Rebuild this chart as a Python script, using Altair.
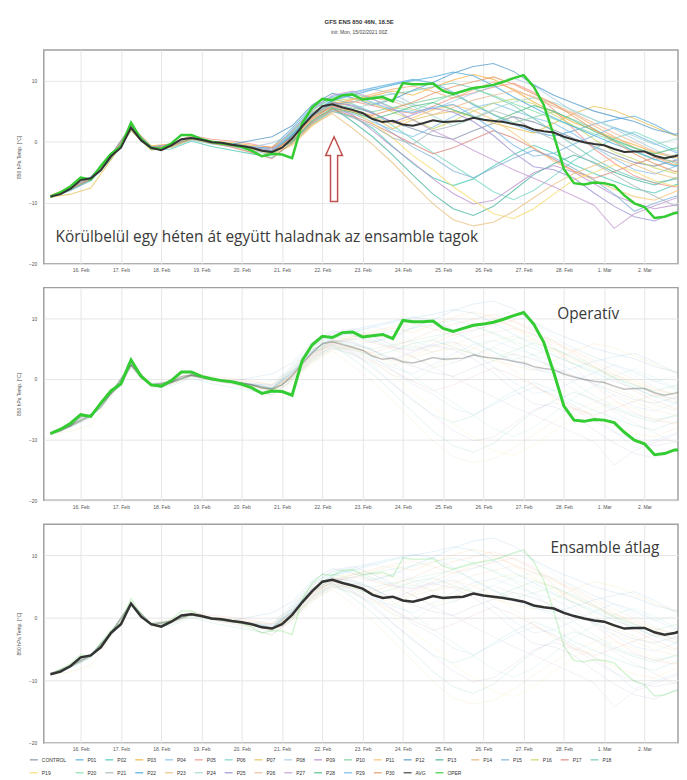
import altair as alt
import pandas as pd

# ---------------- data ----------------
SERIES_NAMES = ["CONTROL"] + [f"P{i:02d}" for i in range(1, 31)] + ["AVG", "OPER"]
SERIES_COLORS = ["#7f8fa6", "#5dade2", "#48c9b0", "#f5b041", "#85c1e9", "#f1948a",
                 "#76d7c4", "#e6c25a", "#a9cce3", "#bb8fce", "#7dcea0", "#f8c471",
                 "#5499c7", "#45b39d", "#f0b27a", "#7fb3d5", "#c9d86b", "#d98880",
                 "#73c6b6", "#f7dc6f", "#82e0aa", "#aab7b8", "#48a9d9", "#e8c07d",
                 "#a2d9ce", "#9b8fd0", "#edbb99", "#c39bd3", "#52be80", "#76b7e8",
                 "#e59866", "#333333", "#33cc33"]

# 12-hourly members from 15 Feb 06 UTC
CONTROL = [-9.1,-7.8,-6.2,-2.6,2.1,-1.1,-0.5,0.7,0.0,-0.4,-0.8,-1.2,1.0,4.8,6.5,5.8,4.6,3.2,2.1,1.0,0.4,1.8,3.0,4.1,3.2,1.9,0.5,-0.8,-2.1,-3.4,-4.0,-3.1,-2.5]
P01 = [-8.9,-7.6,-5.8,-2.2,2.5,-0.9,-0.7,0.5,-0.2,-0.6,-0.9,-1.0,2.2,5.6,7.4,8.1,8.8,9.5,10.2,9.6,8.1,6.0,4.4,2.8,1.6,0.9,1.8,2.9,3.6,4.2,2.8,1.1,0.2]
P02 = [-9.0,-7.9,-6.4,-2.9,1.8,-1.3,-1.2,0.1,-0.8,-1.4,-2.0,-2.6,-0.3,2.9,5.0,4.1,2.2,-0.8,-3.6,-5.9,-7.2,-6.1,-4.0,-2.1,-0.6,-1.9,-3.8,-5.2,-6.5,-7.7,-8.4,-7.1,-6.2]
P03 = [-8.8,-7.5,-5.9,-2.3,2.6,-0.7,-0.4,0.8,0.1,-0.2,-0.6,-0.9,1.5,4.9,6.2,6.9,7.5,8.3,7.6,8.9,10.1,11.0,10.2,8.4,6.5,4.8,3.1,1.9,0.6,-0.5,-1.8,-2.6,-2.0]
P04 = [-9.2,-8.0,-6.3,-2.7,2.0,-1.2,-0.9,0.3,-0.4,-0.8,-1.4,-2.2,0.3,3.6,5.2,4.6,3.2,1.9,0.8,2.4,4.1,5.6,6.3,5.1,3.9,3.0,1.2,-0.9,-2.8,-4.6,-5.3,-4.1,-3.0]
P05 = [-9.0,-7.7,-6.1,-2.5,2.2,-1.0,-0.3,1.0,0.4,0.1,-0.4,-1.0,0.8,4.0,6.0,6.6,5.9,5.1,4.6,5.8,7.2,8.0,8.9,9.6,8.1,5.2,2.0,-1.2,-3.5,-5.6,-6.8,-7.4,-6.1]
P06 = [-8.9,-7.6,-6.0,-2.4,2.4,-0.9,-0.5,0.7,0.0,-0.3,-0.9,-1.5,1.9,5.3,7.0,6.2,4.8,2.6,0.4,-1.8,-3.9,-6.0,-8.2,-9.5,-8.0,-5.6,-3.1,-1.2,0.5,1.6,0.2,-1.4,-2.3]
P07 = [-9.1,-8.6,-7.6,-3.0,1.8,-1.4,-0.9,0.4,-0.3,-0.7,-1.2,-1.9,0.1,3.2,5.4,4.8,4.0,2.1,3.6,4.4,5.0,4.1,3.0,2.2,1.4,3.0,4.6,5.8,5.1,3.8,2.4,1.0,0.5]
P08 = [-9.0,-7.6,-5.9,-2.3,2.4,-0.9,-0.6,0.6,-0.1,-0.4,-0.9,-0.2,1.2,4.6,6.8,7.9,8.6,7.9,6.1,5.3,6.6,7.9,9.1,10.4,9.2,7.0,4.9,3.6,2.1,0.4,-1.3,-2.9,-3.6]
P09 = [-8.9,-7.7,-6.0,-2.4,2.3,-1.1,-0.6,0.6,-0.1,-0.5,-1.0,-1.6,0.6,3.8,5.8,4.4,1.8,-0.9,-3.4,-6.1,-8.5,-10.2,-9.6,-7.4,-5.1,-3.9,-5.0,-6.9,-8.8,-10.1,-11.0,-10.4,-9.2]
P10 = [-9.1,-7.8,-6.1,-2.5,2.2,-1.0,-0.5,0.7,0.0,-0.5,-1.0,-1.7,0.4,4.1,6.2,5.5,4.9,5.6,6.3,7.0,7.6,6.2,4.5,3.1,4.0,4.9,3.6,2.1,0.2,-1.6,-3.0,-2.2,-1.5]
P11 = [-9.0,-7.7,-6.0,-2.4,2.3,-1.0,-0.6,0.5,-0.2,-0.6,-1.2,-2.1,-0.6,2.6,4.8,5.3,4.1,2.9,3.9,5.2,6.0,5.1,3.6,1.4,-1.0,-3.2,-4.9,-6.3,-7.8,-9.0,-9.6,-8.2,-7.0]
P12 = [-8.9,-7.6,-5.9,-2.3,2.4,-0.9,-0.5,0.7,0.0,-0.4,0.2,0.8,2.6,6.0,7.9,7.2,6.0,6.9,8.4,9.7,11.2,12.3,12.8,11.5,9.3,7.6,6.3,5.0,4.1,3.3,2.0,1.2,1.9]
P13 = [-9.0,-7.8,-6.1,-2.5,2.2,-1.1,-0.6,0.6,-0.1,-0.5,-1.0,-1.6,0.9,4.3,5.6,3.3,0.8,-2.2,-5.5,-8.6,-11.0,-12.1,-10.6,-8.0,-5.4,-3.6,-2.2,-3.4,-5.0,-6.2,-7.1,-6.0,-5.1]
P14 = [-9.1,-7.7,-6.0,-2.4,2.3,-1.0,-0.7,0.6,-0.1,-0.6,-1.1,-1.8,0.2,3.5,5.9,6.9,7.8,8.6,9.1,8.2,7.1,8.5,9.8,8.6,7.2,5.8,4.5,2.6,0.8,-0.9,-2.5,-3.8,-3.1]
P15 = [-9.0,-7.6,-6.0,-2.4,2.4,-0.9,-0.6,0.6,-0.1,-0.5,-1.0,-1.6,1.4,4.7,6.4,5.2,3.6,1.4,-0.9,-2.6,-4.8,-5.9,-4.3,-2.7,-1.4,-2.6,-4.4,-6.3,-8.6,-11.4,-10.1,-9.0,-8.3]
P16 = [-8.9,-7.7,-6.0,-2.4,2.3,-1.0,-0.6,0.6,-0.1,-0.5,-1.0,-1.7,0.7,4.2,6.6,7.1,6.3,4.8,3.6,2.1,3.4,5.0,6.3,7.0,6.2,4.4,2.6,0.4,-1.7,-2.9,-4.3,-5.2,-4.6]
P17 = [-9.0,-7.8,-6.2,-2.6,2.1,-1.2,-0.7,0.5,-0.2,-0.9,-1.8,-2.8,-0.1,3.1,5.3,4.2,2.9,1.3,-0.4,-2.0,-1.0,0.4,1.8,0.6,-1.1,-2.9,-4.8,-6.0,-4.9,-3.7,-2.6,-3.3,-4.0]
P18 = [-9.1,-7.7,-6.0,-2.4,2.3,-1.0,-0.6,0.6,-0.1,-0.5,-1.0,-1.6,1.0,4.4,6.0,6.5,7.3,7.8,8.3,9.0,9.6,8.8,7.4,5.9,3.8,1.6,-0.6,-2.8,-4.6,-5.9,-6.7,-6.2,-5.5]
P19 = [-9.0,-7.7,-6.0,-2.4,2.3,-1.0,-0.6,0.6,-0.1,-0.5,-1.0,-1.7,0.5,3.9,6.3,5.0,3.0,0.6,-2.3,-4.6,-7.4,-9.6,-11.8,-12.6,-11.0,-8.6,-6.2,-5.0,-3.8,-4.9,-6.4,-7.3,-6.5]
P20 = [-8.9,-7.6,-5.9,-2.3,2.4,-0.9,-0.6,0.6,-0.1,-0.5,-0.9,-1.5,1.6,5.1,7.2,7.9,7.0,5.6,5.1,6.4,7.8,8.6,7.6,6.2,5.0,3.7,2.5,1.3,0.1,-1.1,-2.2,-3.5,-4.2]
P21 = [-9.0,-7.8,-6.1,-2.5,2.2,-1.0,-0.6,0.6,-0.1,-0.6,-1.1,-1.8,0.0,3.3,5.0,3.9,2.6,0.6,-0.4,1.8,2.6,3.8,5.1,4.0,1.9,0.3,-1.8,-3.6,-5.4,-7.3,-8.9,-10.5,-9.8]
P22 = [-9.0,-7.7,-6.0,-2.4,2.3,-1.0,-0.5,0.6,-0.1,-0.5,-1.0,-1.6,1.1,4.5,6.7,7.6,8.5,9.3,10.0,10.6,11.4,10.8,9.2,7.3,5.6,3.9,2.4,1.0,-0.4,-1.5,-2.9,-4.0,-3.3]
P23 = [-9.1,-7.8,-6.1,-2.5,2.2,-1.1,-0.7,0.5,-0.2,-0.6,-1.2,-1.9,-0.4,2.8,4.6,2.2,-0.5,-3.5,-6.9,-10.2,-12.8,-13.8,-13.2,-11.4,-9.2,-7.0,-5.2,-3.9,-2.6,-3.8,-5.1,-6.0,-5.3]
P24 = [-8.9,-7.6,-6.0,-2.4,2.4,-0.9,-0.6,0.6,-0.1,-0.5,-1.0,-1.6,1.3,4.8,6.1,5.4,6.2,7.0,5.8,4.2,2.6,3.9,5.3,6.5,7.2,6.4,5.1,3.6,2.3,0.9,-0.5,0.4,1.2]
P25 = [-9.0,-7.7,-6.0,-2.4,2.3,-1.0,-0.6,0.6,-0.1,-0.5,-1.0,-1.7,0.8,4.2,6.3,6.0,4.7,3.2,4.4,5.5,4.8,3.3,1.0,-1.8,-4.1,-4.6,-6.0,-8.4,-10.6,-12.3,-13.0,-11.6,-10.3]
P26 = [-9.0,-7.7,-6.1,-2.5,2.2,-1.0,-0.6,0.6,-0.1,-0.5,-1.1,-1.7,0.3,3.7,5.7,6.4,7.2,6.6,5.3,4.4,5.6,6.8,7.6,8.3,7.4,6.1,4.7,3.0,1.4,-0.1,-1.6,-2.4,-1.7]
P27 = [-8.9,-7.6,-5.9,-2.3,2.4,-0.9,-0.5,0.7,0.0,-0.4,-0.9,-1.4,1.8,5.2,7.6,8.3,7.0,5.4,3.6,1.8,0.3,-1.4,-3.0,-4.6,-6.0,-7.4,-8.9,-10.4,-14.2,-11.8,-10.5,-9.3,-8.6]
P28 = [-9.1,-7.8,-6.1,-2.5,2.2,-1.1,-0.6,0.5,-0.2,-0.6,-1.1,-1.9,0.0,3.4,5.5,4.8,3.7,4.6,5.8,6.4,5.2,4.1,3.3,4.6,5.9,5.0,3.4,1.7,0.3,-1.0,-2.0,-1.1,-0.4]
P29 = [-9.0,-7.7,-6.0,-2.4,2.3,-1.0,-0.6,0.6,-0.1,-0.5,-1.0,-1.6,1.2,4.5,6.9,7.7,6.4,5.2,4.8,5.6,6.1,4.2,2.0,-0.6,-2.4,-1.9,-0.4,1.0,2.3,1.2,-0.3,-1.7,-2.4]
P30 = [-9.0,-7.7,-6.0,-2.4,2.3,-1.0,-0.6,0.6,-0.1,-0.5,-1.0,-1.7,0.6,3.9,5.8,5.0,4.3,5.3,6.5,7.9,9.0,9.8,10.6,9.4,7.8,6.2,4.1,2.0,0.0,-2.0,-3.6,-4.9,-4.4]

MEMBERS = [CONTROL, P01, P02, P03, P04, P05, P06, P07, P08, P09, P10, P11, P12, P13, P14, P15,
           P16, P17, P18, P19, P20, P21, P22, P23, P24, P25, P26, P27, P28, P29, P30]

# 6-hourly ensemble mean and operational run from 15 Feb 06 UTC
AVG = [-9.0,-8.6,-7.7,-6.3,-6.0,-4.7,-2.4,-1.0,2.3,0.2,-1.0,-1.4,-0.6,0.4,0.6,0.3,
       -0.1,-0.2,-0.5,-0.7,-1.0,-1.5,-1.7,-1.0,0.5,2.5,4.3,5.8,6.1,5.6,5.2,4.7,
       3.7,3.2,3.4,2.8,2.6,3.0,3.5,3.2,3.3,3.4,3.9,3.6,3.4,3.2,2.9,2.6,
       2.0,1.7,1.5,0.8,0.3,-0.1,-0.4,-0.6,-1.2,-1.7,-1.6,-1.6,-2.3,-2.7,-2.4,-1.9,-1.8]
OPER = [-9.0,-8.3,-7.3,-5.9,-6.2,-4.0,-2.0,-0.8,3.1,0.4,-1.0,-1.2,-0.3,1.1,1.1,0.4,
        0.0,-0.3,-0.5,-0.9,-1.5,-2.4,-2.0,-2.1,-2.7,3.0,5.6,7.0,6.8,7.6,7.7,6.9,
        7.1,7.3,6.6,9.6,9.4,9.4,9.5,8.3,7.8,8.3,8.8,9.0,9.3,9.8,10.4,10.9,
        9.0,6.0,1.0,-4.5,-6.8,-7.0,-6.7,-6.8,-7.2,-8.8,-10.1,-10.7,-12.5,-12.3,-11.7,-11.7,-11.7]

TICK_DAYS = [(2, 16), (2, 17), (2, 18), (2, 19), (2, 20), (2, 21), (2, 22), (2, 23), (2, 24),
             (2, 25), (2, 26), (2, 27), (2, 28), (3, 1), (3, 2), (3, 3)]

NOTE_TEXTS = ["Körülbelül egy héten át együtt haladnak az ensamble tagok", "Operatív", "Ensamble átlag"]
NOTE_TIMES = ["2021-02-15T09:00:00", "2021-02-27T20:00:00", "2021-02-27T16:00:00"]
NOTE_TEMPS = [-15.6, 10.6, 11.2]
NOTE_SIZES = [15.5, 15.5, 15.5]
ARROW_TIME = ["2021-02-22T07:00:00"]
ARROW_TEMP = [-4.5]

# ---------------- tables ----------------
t12 = pd.date_range("2021-02-15 06:00", periods=33, freq="12h").strftime("%Y-%m-%dT%H:%M:%S")
t6 = pd.date_range("2021-02-15 06:00", periods=65, freq="6h").strftime("%Y-%m-%dT%H:%M:%S")
rows = []
for name, vals in zip(SERIES_NAMES[:31], MEMBERS):
    for t, v in zip(t12, vals):
        rows.append({"series": name, "time": t, "temp": v})
for name, vals in (("AVG", AVG), ("OPER", OPER)):
    for t, v in zip(t6, vals):
        rows.append({"series": name, "time": t, "temp": v})
df = pd.DataFrame(rows)

notes = pd.DataFrame({"text": NOTE_TEXTS, "time": NOTE_TIMES, "temp": NOTE_TEMPS, "panel": [1, 2, 3]})
arrow = pd.DataFrame({"time": ARROW_TIME, "temp": ARROW_TEMP})

FONT = "Liberation Sans"
x_enc = alt.X("time:T",
              scale=alt.Scale(domain=[alt.DateTime(year=2021, month=2, date=15, hours=2),
                                      alt.DateTime(year=2021, month=3, date=2, hours=20)]),
              axis=alt.Axis(values=[alt.DateTime(year=2021, month=m, date=d) for m, d in TICK_DAYS],
                            format="%-d. %b", title=None, labelFontSize=5, labelColor="#555",
                            labelFont=FONT, ticks=False, domain=False, grid=True,
                            gridColor="#e6e6e6", labelPadding=4, labelBound=True))
y_enc = alt.Y("temp:Q", scale=alt.Scale(domain=[-20, 15], nice=False, zero=False),
              axis=alt.Axis(values=list(range(-20, 16, 5)), title="850 hPa Temp. [°C]",
                            titleFontSize=5, titleFontWeight="normal", titleColor="#555",
                            titleFont=FONT, labelFontSize=5, labelColor="#555", labelFont=FONT,
                            ticks=False, domain=False, grid=True, gridColor="#e6e6e6",
                            labelPadding=7, titlePadding=7))
color_enc = alt.Color("series:N",
                      scale=alt.Scale(domain=SERIES_NAMES, range=SERIES_COLORS),
                      legend=alt.Legend(orient="none", legendX=-15, legendY=709,
                                        direction="horizontal", columns=19, symbolType="stroke",
                                        symbolSize=64, symbolStrokeWidth=1.5, labelFontSize=5,
                                        labelFont=FONT, labelColor="#333", title=None,
                                        columnPadding=6, rowPadding=5, labelOffset=3,
                                        symbolLimit=50))

base = alt.Chart(df).encode(x=x_enc, y=y_enc, color=color_enc, detail="series:N")
members = base.transform_filter(alt.FieldOneOfPredicate(field="series", oneOf=SERIES_NAMES[:31]))
avg = base.transform_filter(alt.datum.series == "AVG")
oper = base.transform_filter(alt.datum.series == "OPER")


def note(panel):
    return alt.Chart(notes).transform_filter(alt.datum.panel == panel).mark_text(
        align="left", baseline="middle", fontSize=NOTE_SIZES[panel - 1], font="Open Sans",
        color="#3a3a3a"
    ).encode(x=alt.X("time:T"), y=alt.Y("temp:Q"), text="text:N")


W = 638
p1 = alt.layer(
    members.mark_line(strokeWidth=1.1, opacity=0.75, clip=True),
    oper.mark_line(strokeWidth=2.5, opacity=1, clip=True),
    avg.mark_line(strokeWidth=2, opacity=1, clip=True),
    alt.Chart(arrow).mark_point(
        shape="M0,-1L0.26,-0.42L0.11,-0.42L0.11,1L-0.11,1L-0.11,-0.42L-0.26,-0.42Z",
        size=4225, fill="white", fillOpacity=1, stroke="#c0504d", strokeWidth=1.5, opacity=1
    ).encode(x="time:T", y="temp:Q"),
    note(1),
).properties(width=W, height=215)

p2 = alt.layer(
    members.mark_line(strokeWidth=1, opacity=0.15, clip=True),
    avg.mark_line(strokeWidth=1.5, opacity=0.3, clip=True),
    oper.mark_line(strokeWidth=3, opacity=1, clip=True),
    note(2),
).properties(width=W, height=214)

p3 = alt.layer(
    members.mark_line(strokeWidth=1, opacity=0.15, clip=True),
    oper.mark_line(strokeWidth=1.5, opacity=0.2, clip=True),
    avg.mark_line(strokeWidth=2.5, opacity=1, clip=True),
    note(3),
).properties(width=W, height=220)

chart = alt.vconcat(p1, p2, p3, spacing=13).properties(
    title=alt.TitleParams("GFS ENS 850 46N, 18.5E", subtitle="init: Mon, 15/02/2021 00Z",
                          fontSize=6, subtitleFontSize=5, font=FONT, subtitleFont=FONT,
                          color="#333", subtitleColor="#444", anchor="middle", dx=12,
                          subtitlePadding=5, offset=14),
    padding={"left": 7, "top": 9, "right": 0, "bottom": 0},
).configure_view(stroke="#a0a0a0", strokeWidth=1.5)

chart.save("out.html", embed_options={"renderer": "svg", "actions": False})
